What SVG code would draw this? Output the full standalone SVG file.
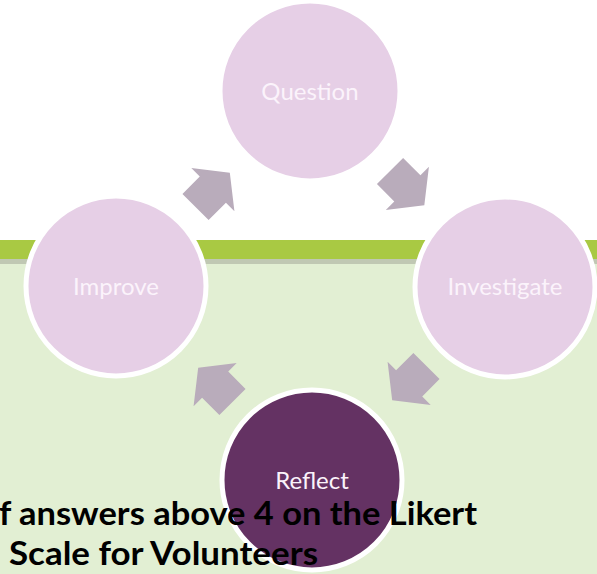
<svg xmlns="http://www.w3.org/2000/svg" width="597" height="574" viewBox="0 0 597 574">
<defs>
<style>
.node{fill:#e6cfe6;stroke:#ffffff;stroke-width:5}
.dark{fill:#643263;stroke:#ffffff;stroke-width:5}
.lbl{font-family:Lato,"Open Sans",sans-serif;font-size:24px;fill:#fbf3fb;text-anchor:middle;dominant-baseline:central}
.arr{fill:#b9acbb}
.big{font-family:Lato,"Open Sans",sans-serif;font-weight:bold;font-size:33px;fill:#000}
</style>
<path id="arrow" d="M-24,-18.5 L0.5,-18.5 L0.5,-30.5 L24.5,0 L0.5,30.5 L0.5,18.5 L-24,18.5 Z"/>
</defs>
<rect x="0" y="0" width="597" height="574" fill="#ffffff"/>
<rect x="0" y="240" width="597" height="19" fill="#a9c943"/>
<rect x="0" y="259" width="597" height="5" fill="#c0c8b3"/>
<rect x="0" y="264" width="597" height="310" fill="#e2efd3"/>
<g id="connectors" class="arr">
<use href="#arrow" transform="translate(212.5,190) rotate(-45)"/>
<use href="#arrow" transform="translate(407,188) rotate(45)"/>
<use href="#arrow" transform="translate(409.5,383) rotate(135)"/>
<use href="#arrow" transform="translate(215.5,385) rotate(-135)"/>
</g>
<g id="question"><circle class="node" cx="310" cy="91" r="90"/><text class="lbl" x="310" y="90">Question</text></g>
<g id="investigate"><circle class="node" cx="505" cy="287" r="90"/><text class="lbl" x="505" y="285">Investigate</text></g>
<g id="reflect"><circle class="dark" cx="312" cy="480" r="90"/><text class="lbl" x="312" y="479">Reflect</text></g>
<g id="improve"><circle class="node" cx="116" cy="286" r="90"/><text class="lbl" x="116" y="285">Improve</text></g>
<g id="caption">
<text class="big" x="-1" y="525" textLength="478" lengthAdjust="spacingAndGlyphs">f answers above 4 on the Likert</text>
<text class="big" x="9" y="565" textLength="309" lengthAdjust="spacingAndGlyphs">Scale for Volunteers</text>
</g>
</svg>
